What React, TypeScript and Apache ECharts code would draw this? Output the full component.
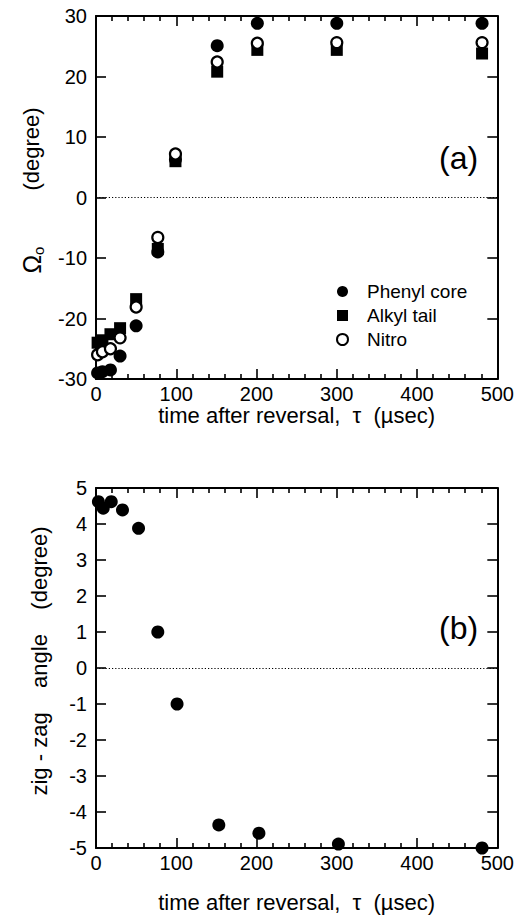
import React, { useEffect, useRef } from "react";
import * as echarts from "echarts";

// Panel (a): orientation angle vs time
const times = [2, 8, 18, 30, 50, 77, 99, 151, 201, 300, 481];
const phenylCore = [-29, -28.8, -28.5, -26.2, -21.2, -9, 6.3, 25.1, 28.8, 28.8, 28.8];
const alkylTail = [-24, -23.6, -22.6, -21.6, -16.8, -8.5, 6.0, 20.8, 24.4, 24.4, 23.8];
const nitro = [-26, -25.5, -25, -23.2, -18.1, -6.6, 7.2, 22.4, 25.5, 25.6, 25.6];

// Panel (b): zig-zag angle vs time
const zigTimes = [3, 9, 19, 33, 53, 77, 101, 153, 203, 302, 481];
const zigzagAngle = [4.62, 4.44, 4.62, 4.39, 3.88, 1.0, -1.0, -4.36, -4.59, -4.89, -5.0];

const seriesNames = ["Phenyl core", "Alkyl tail", "Nitro"];
const xTitle = "time after reversal,  τ  (µsec)";

const FONT = "Liberation Sans, Arial, Helvetica, sans-serif";

const pair = (xs: number[], ys: number[]) => xs.map((x, i) => [x, ys[i]]);

function axisBase(extra: any) {
  return {
    type: "value",
    axisLine: { show: true, onZero: false, lineStyle: { color: "#000", width: 2 } },
    axisTick: { show: true, inside: true, length: 10, lineStyle: { color: "#000", width: 1.6 } },
    splitLine: { show: false },
    axisLabel: { show: true, color: "#000", fontSize: 20, fontFamily: FONT },
    ...extra,
  };
}

export default function App() {
  const ref = useRef<HTMLDivElement>(null);
  useEffect(() => {
    document.body.style.margin = "0";
    if (!ref.current) return;
    const chart = echarts.init(ref.current, undefined, { renderer: "svg" });
    const xCommon = (grid: number, pos: string, showLabel: boolean, name?: string, gap?: number) =>
      axisBase({
        gridIndex: grid,
        position: pos,
        min: 0,
        max: 500,
        interval: 100,
        minorTick: { show: true, splitNumber: 5, length: 5, lineStyle: { color: "#000", width: 1.6 } },
        axisLabel: { show: showLabel, color: "#000", fontSize: 20, fontFamily: FONT, margin: 5 },
        name: name,
        nameLocation: "middle",
        nameGap: gap,
        nameTextStyle: { color: "#000", fontSize: 22, fontFamily: FONT },
      });
    const zeroLine = {
      silent: true,
      symbol: ["none", "none"],
      label: { show: false },
      lineStyle: { color: "#000", type: [1.2, 2], width: 1.2, opacity: 1 },
      data: [{ yAxis: 0 }],
    };
    const option: any = {
      animation: false,
      textStyle: { fontFamily: FONT },
      grid: [
        { left: 96, top: 16, width: 405, height: 363 },
        { left: 96, top: 488, width: 406, height: 360 },
      ],
      xAxis: [
        xCommon(0, "bottom", true, xTitle, 22),
        xCommon(0, "top", false),
        xCommon(1, "bottom", true, xTitle, 43),
        xCommon(1, "top", false),
      ],
      yAxis: [
        axisBase({
          gridIndex: 0,
          position: "left",
          min: -30,
          max: 30,
          interval: 10,
          axisLabel: { show: true, color: "#000", fontSize: 20, fontFamily: FONT, margin: 9 },
          name: "{om|Ω}{sub|o}{deg|(degree)}",
          nameLocation: "middle",
          nameGap: 50,
          nameTextStyle: {
            color: "#000",
            fontFamily: FONT,
            rich: {
              om: { fontSize: 25, fontFamily: FONT, color: "#000", padding: [0, 0, 0, 14] },
              sub: { fontSize: 15, fontFamily: FONT, color: "#000", padding: [14, 0, 0, 0] },
              deg: { fontSize: 22, fontFamily: FONT, color: "#000", padding: [0, 0, 0, 56] },
            },
          },
        }),
        axisBase({ gridIndex: 0, position: "right", min: -30, max: 30, interval: 10, axisLabel: { show: false } }),
        axisBase({
          gridIndex: 1,
          position: "left",
          min: -5,
          max: 5,
          interval: 1,
          axisLabel: { show: true, color: "#000", fontSize: 20, fontFamily: FONT, margin: 9 },
          name: "zig - zag    angle    (degree)",
          nameLocation: "middle",
          nameGap: 46,
          nameTextStyle: { color: "#000", fontSize: 22, fontFamily: FONT, padding: [0, 0, 0, 14] },
        }),
        axisBase({ gridIndex: 1, position: "right", min: -5, max: 5, interval: 1, axisLabel: { show: false } }),
      ],
      legend: {
        orient: "vertical",
        left: 331,
        top: 277,
        itemWidth: 11,
        itemHeight: 11,
        itemGap: 5,
        data: seriesNames,
        textStyle: { color: "#000", fontSize: 19, fontFamily: FONT, padding: [0, 0, 0, 14] },
      },
      graphic: [
        { type: "text", left: 439, top: 142, style: { text: "(a)", fontSize: 32, fontFamily: FONT, fill: "#000" } },
        { type: "text", left: 439, top: 612, style: { text: "(b)", fontSize: 32, fontFamily: FONT, fill: "#000" } },
      ],
      series: [
        {
          name: seriesNames[0],
          type: "scatter",
          xAxisIndex: 0,
          yAxisIndex: 0,
          symbol: "circle",
          symbolSize: 13,
          clip: false,
          itemStyle: { color: "#000", opacity: 1 },
          data: pair(times, phenylCore),
          markLine: zeroLine,
          z: 2,
        },
        {
          name: seriesNames[1],
          type: "scatter",
          xAxisIndex: 0,
          yAxisIndex: 0,
          symbol: "rect",
          symbolSize: 12,
          clip: false,
          itemStyle: { color: "#000", opacity: 1 },
          data: pair(times, alkylTail),
          z: 3,
        },
        {
          name: seriesNames[2],
          type: "scatter",
          xAxisIndex: 0,
          yAxisIndex: 0,
          symbol: "circle",
          symbolSize: 11,
          clip: false,
          itemStyle: { color: "#fff", borderColor: "#000", borderWidth: 2.2, opacity: 1 },
          data: pair(times, nitro),
          z: 4,
        },
        {
          name: "zig-zag angle",
          type: "scatter",
          xAxisIndex: 2,
          yAxisIndex: 2,
          symbol: "circle",
          symbolSize: 13,
          clip: false,
          itemStyle: { color: "#000", opacity: 1 },
          data: pair(zigTimes, zigzagAngle),
          markLine: zeroLine,
        },
      ],
    };
    chart.setOption(option);
    return () => chart.dispose();
  }, []);
  return <div ref={ref} style={{ width: 517, height: 920 }} />;
}
